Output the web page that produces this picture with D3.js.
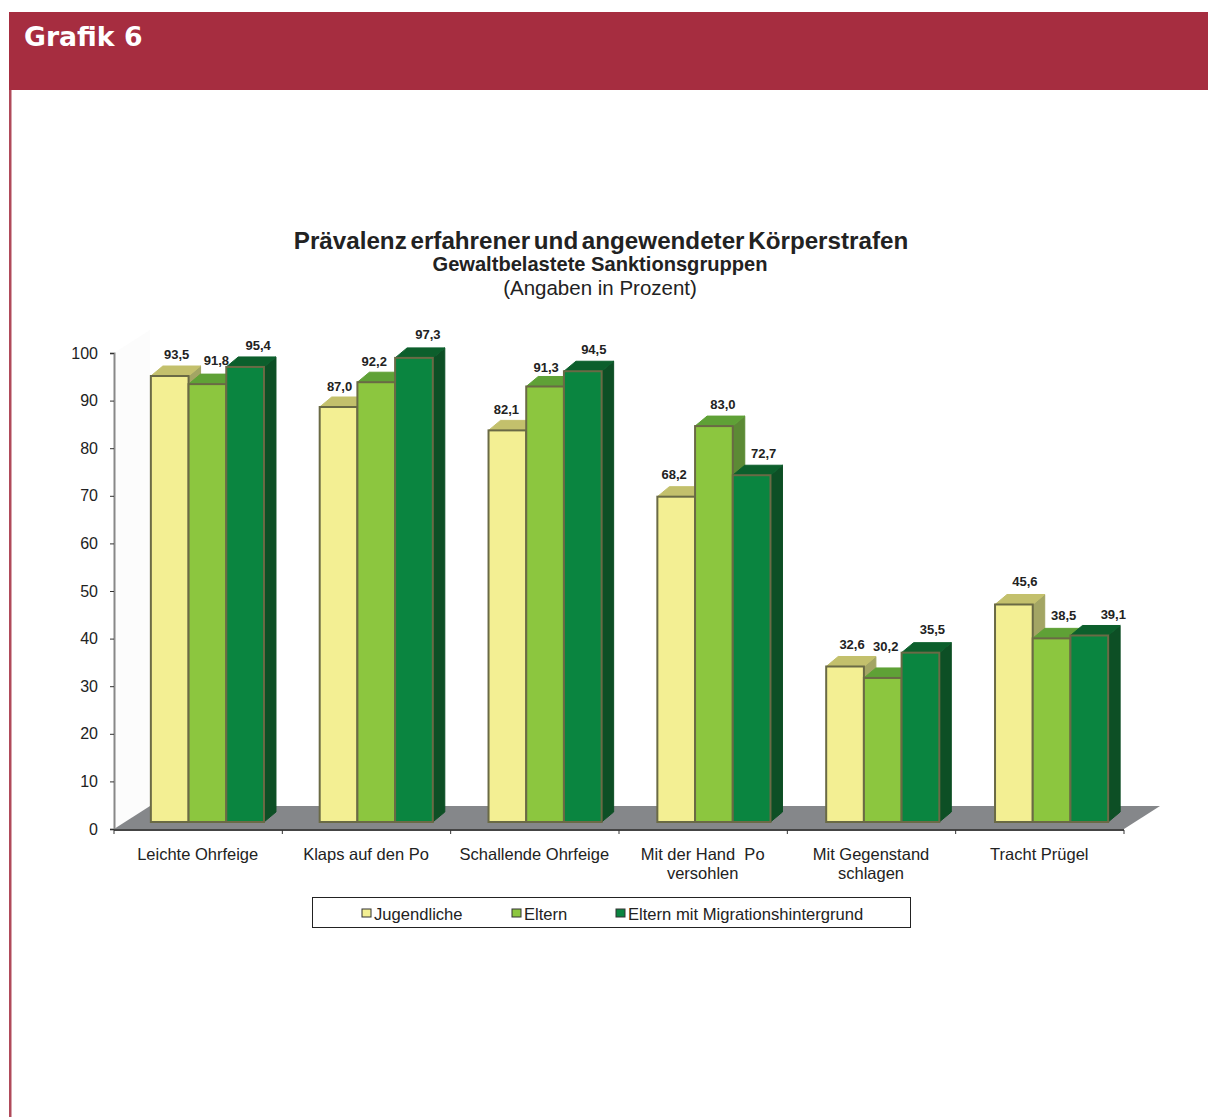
<!DOCTYPE html>
<html>
<head>
<meta charset="utf-8">
<style>
    html, body { margin: 0; padding: 0; background: #fff; }
    svg { display: block; }
    text { font-family: "Liberation Sans", Arial, sans-serif; fill: #222; }
</style>
</head>
<body>
<div id="chart"></div>
<script src="https://cdn.jsdelivr.net/npm/d3@7"></script>
<script>
// Data
const categories = ['Leichte Ohrfeige', 'Klaps auf den Po', 'Schallende Ohrfeige', 'Mit der Hand  Po versohlen', 'Mit Gegenstand schlagen', 'Tracht Prügel'];
const categoryLines = [['Leichte Ohrfeige'], ['Klaps auf den Po'], ['Schallende Ohrfeige'], ['Mit der Hand  Po', 'versohlen'], ['Mit Gegenstand', 'schlagen'], ['Tracht Prügel']];
const seriesNames = ['Jugendliche', 'Eltern', 'Eltern mit Migrationshintergrund'];
const jugendliche = [93.5, 87.0, 82.1, 68.2, 32.6, 45.6];
const eltern = [91.8, 92.2, 91.3, 83.0, 30.2, 38.5];
const migration = [95.4, 97.3, 94.5, 72.7, 35.5, 39.1];
const yTicks = [0, 10, 20, 30, 40, 50, 60, 70, 80, 90, 100];

// Colours per series: front, top, side
const colors = [
    { front: '#f3ef93', top: '#c3c06c', side: '#a3a564' },
    { front: '#8cc63f', top: '#5fa136', side: '#5c8a35' },
    { front: '#0a8540', top: '#0c5f2c', side: '#0d4f25' }
];

// Hand placed label nudges, the original labels are not regular [series][category]
const labelNudgeX = [
    [7, 1, -1, -2, 7, 11],
    [9, -2, 1, 9, 3, 12],
    [13, 14, 11, 12, 12, 24]
];
const labelNudgeY = [
    [-12, -11, -11, -12, -12, -13],
    [-14, -11, -9, -12, -21, -13],
    [-11, -13, -12, -12, -13, -11]
];

const width = 1208;
const height = 1117;
const depthX = 12;
const depthY = 10;

const svg = d3.select('#chart').append('svg')
    .attr('width', width)
    .attr('height', height);

// Header
svg.append('rect').attr('x', 9).attr('y', 12).attr('width', width - 9).attr('height', 78).attr('fill', '#a62d40');
svg.append('rect').attr('x', 9).attr('y', 90).attr('width', 2.5).attr('height', height - 90).attr('fill', '#b04a5a');
svg.append('text').attr('x', 24).attr('y', 46)
    .style('font-family', '"DejaVu Sans", sans-serif')
    .style('font-weight', 'bold')
    .style('font-size', '26.7px')
    .style('fill', '#fff')
    .text('Grafik 6');

// Titles
svg.append('text').attr('x', 601).attr('y', 249)
    .attr('text-anchor', 'middle')
    .style('font-weight', 'bold').style('font-size', '24.2px').style('word-spacing', '-3px')
    .text('Prävalenz erfahrener und angewendeter Körperstrafen');
svg.append('text').attr('x', 600).attr('y', 271)
    .attr('text-anchor', 'middle')
    .style('font-weight', 'bold').style('font-size', '20.1px')
    .text('Gewaltbelastete Sanktionsgruppen');
svg.append('text').attr('x', 600).attr('y', 295)
    .attr('text-anchor', 'middle')
    .style('font-size', '20.5px')
    .text('(Angaben in Prozent)');

// Scales
const axisY = d3.scaleLinear().domain([0, 100]).range([829, 353]);
const frontY = d3.scaleLinear().domain([0, 100]).range([822, 345]);
const axisX = d3.scaleBand().domain(categories).range([114, 1124]);
const groupX = d3.scaleBand().domain(categories).range([123, 1136]).paddingInner(0.33).paddingOuter(0.165);
const barX = d3.scaleBand().domain(seriesNames).range([0, groupX.bandwidth()]);

// Faint back wall and floor
const floorPath = d3.line();
svg.append('path')
    .attr('d', floorPath([[114, 829], [150, 806], [150, 330], [114, 353]]) + 'Z')
    .attr('fill', '#fcfcfc');
svg.append('path')
    .attr('d', floorPath([[114, 829], [1124, 829], [1160, 806], [150, 806]]) + 'Z')
    .attr('fill', '#85878a');

// Axes
const yAxis = d3.axisLeft(axisY).tickValues(yTicks).tickSize(4).tickPadding(12);
const yG = svg.append('g').attr('transform', 'translate(114,0)').call(yAxis);
yG.select('.domain').attr('stroke', '#888').attr('stroke-width', 2);
yG.selectAll('.tick line').attr('stroke', '#333');
yG.selectAll('.tick text').style('font-size', '16px').style('font-family', '"Liberation Sans", Arial, sans-serif');

const boundaries = categories.map(c => axisX(c)).concat(axisX.range()[1]);
svg.append('line').attr('x1', 114).attr('x2', 1124).attr('y1', 830).attr('y2', 830).attr('stroke', '#444').attr('stroke-width', 2);
svg.selectAll('.x-tick').data(boundaries).enter().append('line')
    .attr('class', 'x-tick')
    .attr('x1', d => d).attr('x2', d => d)
    .attr('y1', 830).attr('y2', 834)
    .attr('stroke', '#333');

svg.selectAll('.x-label').data(categories).enter().append('text')
    .attr('class', 'x-label')
    .attr('text-anchor', 'middle')
    .style('font-size', '16.5px')
    .style('white-space', 'pre')
    .each(function(d, i) {
        const cx = axisX(d) + axisX.bandwidth() / 2 - 0.5;
        d3.select(this).selectAll('tspan').data(categoryLines[i]).enter().append('tspan')
            .attr('x', cx)
            .attr('y', (line, j) => 860 + j * 19)
            .text(line => line);
    });

// Bars
const values = [jugendliche, eltern, migration];
categories.forEach((cat, ci) => {
    seriesNames.forEach((name, si) => {
        const v = values[si][ci];
        const x0 = groupX(cat) + barX(name);
        const x1 = x0 + barX.bandwidth();
        const yTop = frontY(v);
        const yBase = frontY(0);
        const g = svg.append('g').attr('class', 'bar');

        g.append('path')
            .attr('d', floorPath([[x1, yBase], [x1 + depthX, yBase - depthY], [x1 + depthX, yTop - depthY], [x1, yTop]]) + 'Z')
            .attr('fill', colors[si].side)
            .attr('stroke', colors[si].side);
        g.append('path')
            .attr('d', floorPath([[x0, yTop], [x0 + depthX, yTop - depthY], [x1 + depthX, yTop - depthY], [x1, yTop]]) + 'Z')
            .attr('fill', colors[si].top)
            .attr('stroke', colors[si].top);
        g.append('rect')
            .attr('x', x0).attr('y', yTop)
            .attr('width', x1 - x0).attr('height', yBase - yTop)
            .attr('fill', colors[si].front)
            .attr('stroke', '#6a6a45')
            .attr('stroke-width', 2);
    });
});

// Value labels on top of everything
categories.forEach((cat, ci) => {
    seriesNames.forEach((name, si) => {
        const v = values[si][ci];
        svg.append('text')
            .attr('x', groupX(cat) + barX(name) + barX.bandwidth() / 2 + labelNudgeX[si][ci])
            .attr('y', frontY(v) - depthY + labelNudgeY[si][ci] + 4.5)
            .attr('text-anchor', 'middle')
            .style('font-size', '13px')
            .style('font-weight', 'bold')
            .text(d3.format('.1f')(v).replace('.', ','));
    });
});

// Legend
svg.append('rect')
    .attr('x', 312.5).attr('y', 897.5).attr('width', 598).attr('height', 30)
    .attr('fill', '#fff').attr('stroke', '#222');
const legendX = d3.scaleOrdinal().domain(seriesNames).range([362, 512, 616]);
seriesNames.forEach((name, si) => {
    svg.append('rect')
        .attr('x', legendX(name)).attr('y', 909).attr('width', 9).attr('height', 8)
        .attr('fill', colors[si].front).attr('stroke', '#333');
    svg.append('text')
        .attr('x', legendX(name) + 12).attr('y', 920)
        .style('font-size', '16.6px')
        .text(name);
});
</script>
</body>
</html>
